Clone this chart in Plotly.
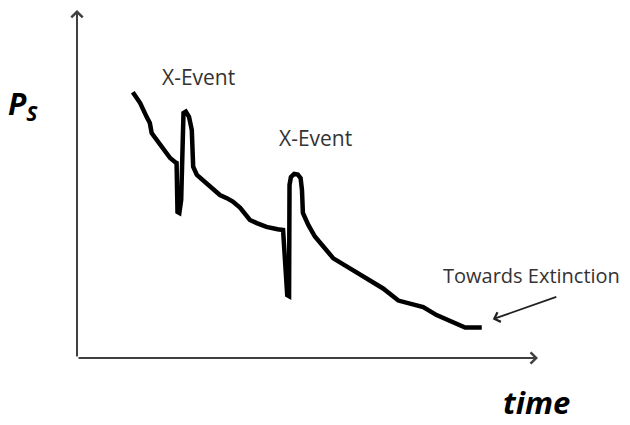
import plotly.graph_objects as go

# time and population-size values (arbitrary units, 0-100)
time = [12.1, 13.7, 15.1, 15.8, 16.2, 17.6, 19.1, 20.2, 21.3, 21.6, 21.8, 22.2, 22.6,
        23.1, 23.6, 24.3, 24.9, 25.2, 26.0, 28.1, 31.0, 32.5, 33.8, 35.4, 37.5, 39.0,
        41.1, 43.5, 44.7, 45.6, 46.0, 46.1, 46.4, 47.1, 47.9, 48.5, 48.8, 49.0, 50.2,
        51.6, 53.4, 55.6, 59.2, 62.8, 66.4, 69.7, 72.2, 75.1, 78.0, 81.3, 84.2, 87.8]
ps = [76.8, 73.7, 69.7, 67.9, 65.0, 62.4, 59.5, 57.8, 56.6, 56.4, 42.2, 41.9, 45.7,
      70.8, 71.2, 69.7, 65.9, 55.3, 52.9, 50.5, 47.1, 46.2, 45.2, 43.4, 39.9, 39.0,
      37.9, 37.2, 37.0, 18.2, 17.9, 50.0, 52.3, 53.2, 53.0, 52.0, 48.6, 41.9, 38.4,
      35.1, 32.2, 28.8, 25.9, 23.0, 20.1, 16.6, 15.6, 14.7, 12.4, 10.5, 8.8, 8.8]

event_labels = ["X-Event", "X-Event"]
event_time = [26.4, 51.7]
event_ps = [81.2, 63.6]

x_range = [0, 100]
y_range = [0, 100]

fig = go.Figure()
fig.add_trace(go.Scatter(x=time, y=ps, mode="lines",
                         line=dict(color="black", width=4.5),
                         hoverinfo="skip", showlegend=False))

axis_color = "#404040"
text_color = "#333333"
font_family = "'Open Sans', Lato, sans-serif"

annotations = []
# axes with arrowheads
annotations.append(dict(x=0, y=100.6, ax=0, ay=0, xref="x", yref="y", axref="x", ayref="y",
                        showarrow=True, arrowhead=4, arrowsize=1.1, arrowwidth=2,
                        arrowcolor=axis_color, text=""))
annotations.append(dict(x=100, y=0, ax=0, ay=0, xref="x", yref="y", axref="x", ayref="y",
                        showarrow=True, arrowhead=4, arrowsize=1.1, arrowwidth=2,
                        arrowcolor=axis_color, text=""))
# event labels
for lab, tx, py in zip(event_labels, event_time, event_ps):
    annotations.append(dict(x=tx, y=py, xref="x", yref="y", text=lab, showarrow=False,
                            xanchor="center", yanchor="middle",
                            font=dict(family=font_family, size=21, color=text_color)))
# towards extinction
annotations.append(dict(x=0.985, y=0.237, xref="paper", yref="paper",
                        text="Towards Extinction", showarrow=False,
                        xanchor="center", yanchor="middle",
                        font=dict(family=font_family, size=20, color=text_color)))
annotations.append(dict(x=90.2, y=11.2, ax=104.3, ay=17.8, xref="x", yref="y",
                        axref="x", ayref="y", showarrow=True, arrowhead=4, arrowsize=1.1,
                        arrowwidth=1.8, arrowcolor="#222222", text=""))
# axis titles
annotations.append(dict(x=0.996, y=-0.127, xref="paper", yref="paper",
                        text="<b><i>time</i></b>", showarrow=False,
                        xanchor="center", yanchor="middle",
                        font=dict(family=font_family, size=31, color="black")))
annotations.append(dict(x=-0.117, y=0.73, xref="paper", yref="paper",
                        text="<b><i>P</i></b><sub><b><i>S</i></b></sub>",
                        showarrow=False, xanchor="center", yanchor="middle",
                        font=dict(family=font_family, size=30, color="black")))

fig.update_layout(
    width=630, height=425,
    margin=dict(l=69, r=100, t=4, b=75),
    paper_bgcolor="white", plot_bgcolor="white",
    xaxis=dict(range=x_range, visible=False),
    yaxis=dict(range=y_range, visible=False),
    annotations=annotations,
    showlegend=False,
)

fig.write_html("out.html")
